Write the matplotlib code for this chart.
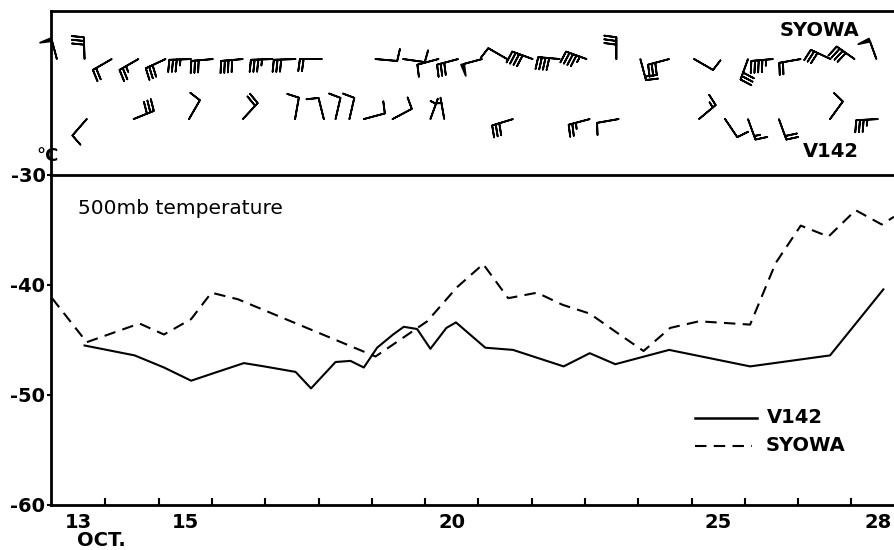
import numpy as np
import matplotlib
matplotlib.use("Agg")
from matplotlib import pyplot as plt

# 500mb temperature (deg C), x = day of October
v142_day = [13.11, 14.05, 14.6, 15.11, 15.54, 16.1, 16.48, 17.07, 17.36, 17.82, 18.1, 18.35, 18.6, 18.9,
            19.1, 19.35, 19.6, 19.9, 20.08, 20.63, 21.15, 22.1, 22.59, 23.07, 24.08, 25.6, 27.1, 28.1]
v142_temp = [-45.5, -46.4, -47.5, -48.7, -48.0, -47.1, -47.4, -47.9, -49.4, -47.0, -46.9, -47.5, -45.7, -44.5,
             -43.8, -44.0, -45.8, -43.9, -43.4, -45.7, -45.9, -47.4, -46.2, -47.2, -45.9, -47.4, -46.4, -40.4]

syowa_day = [12.5, 13.15, 14.14, 14.6, 15.11, 15.49, 15.99, 18.57, 19.54, 20.1, 20.59, 21.06, 21.6,
             22.08, 22.59, 23.09, 23.6, 24.1, 24.64, 25.6, 26.08, 26.55, 27.07, 27.58, 28.07, 28.3]
syowa_temp = [-41.2, -45.2, -43.5, -44.5, -43.1, -40.7, -41.3, -46.5, -43.3, -40.2, -38.1, -41.2, -40.7,
              -41.8, -42.6, -44.3, -46.0, -43.9, -43.3, -43.6, -38.0, -34.6, -35.6, -33.2, -34.5, -33.8]

# upper winds: day, direction the wind blows from (deg), speed (kt)
syowa_wday = [12.59, 13.11, 13.62, 14.12, 14.63, 15.11, 15.52, 16.08, 16.64, 17.07, 17.56, 18.57, 19.09,
              19.75, 20.12, 20.57, 21.04, 21.52, 22.03, 22.53, 23.09, 23.54, 24.08, 24.55, 25.56, 26.03,
              26.55, 27.11, 27.56, 27.97]
syowa_wdir = [345, 358, 240, 240, 245, 268, 265, 265, 268, 268, 270, 95, 98,
              255, 255, 255, 300, 290, 275, 290, 0, 165, 255, 120, 200, 265,
              260, 295, 305, 340]
syowa_wspd = [50, 30, 20, 25, 30, 35, 30, 40, 35, 30, 20, 10, 10,
              10, 30, 50, 10, 40, 40, 45, 30, 20, 30, 10, 30, 45,
              20, 30, 40, 50]

v142_wday = [13.15, 14.03, 15.07, 16.08, 17.06, 17.6, 17.82, 18.08, 18.35, 18.89, 19.6, 19.86,
             21.15, 22.59, 23.13, 24.64, 25.13, 25.56, 26.14, 27.1, 28.0]
v142_wdir = [221, 68, 30, 43, 10, 346, 13, 13, 75, 62, 20, 350,
             253, 255, 260, 50, 146, 160, 160, 36, 267]
v142_wspd = [10, 30, 10, 20, 10, 10, 10, 10, 10, 10, 5, 5,
             30, 25, 10, 15, 10, 15, 20, 10, 35]

temp_ticks = [-30, -40, -50, -60]
day_labels = [13, 15, 20, 25, 28]

W, H = 894, 550
fig = plt.figure(figsize=(W / 100, H / 100), dpi=100)
ax_w = fig.add_axes([51 / W, 375 / H, 843 / W, 164 / H])
ax = fig.add_axes([51 / W, 45 / H, 843 / W, 330 / H])

xlim = (12.48, 28.3)
lab_font = 'DejaVu Sans'


def uv(dirs, spd):
    d = np.radians(dirs)
    s = np.array(spd, float)
    return -s * np.sin(d), -s * np.cos(d)


# ---- wind panel
for days, dirs, spds, yrow in [(syowa_wday, syowa_wdir, syowa_wspd, 0.707),
                               (v142_wday, v142_wdir, v142_wspd, 0.341)]:
    u, v = uv(dirs, spds)
    ax_w.barbs(days, np.full(len(days), yrow), u, v, length=5.6, pivot='tip', flip_barb=True,
               sizes=dict(spacing=0.17, height=0.55, width=0.15), linewidth=1.3, color='black',
               clip_on=False)
ax_w.set_xlim(*xlim)
ax_w.set_ylim(0, 1)
ax_w.set_xticks([])
ax_w.set_yticks([])
ax_w.spines['bottom'].set_visible(False)
ax_w.spines['right'].set_visible(False)
for s in ['top', 'left']:
    ax_w.spines[s].set_linewidth(2)
ax_w.patch.set_alpha(0)
ax_w.text(0.912, 0.884, 'SYOWA', transform=ax_w.transAxes, ha='center', va='center',
          fontsize=14, fontweight='bold', family=lab_font)
ax_w.text(0.925, 0.146, 'V142', transform=ax_w.transAxes, ha='center', va='center',
          fontsize=14, fontweight='bold', family=lab_font)

# ---- temperature panel
ax.plot(v142_day, v142_temp, color='black', lw=1.5)
ax.plot(syowa_day, syowa_temp, color='black', lw=1.5, dashes=(5.5, 3.5))
ax.set_xlim(*xlim)
ax.set_ylim(-60, -30)
ax.spines['right'].set_visible(False)
for s in ['top', 'left', 'bottom']:
    ax.spines[s].set_linewidth(2)

ax.set_xticks(day_labels)
ax.set_xticklabels([str(d) for d in day_labels], fontsize=14, fontweight='bold', family=lab_font)
ax.set_xticks(np.arange(13.5, 28, 1.0), minor=True)
ax.tick_params(axis='x', which='major', length=0, pad=6)
ax.tick_params(axis='x', which='minor', direction='in', length=5, width=1.5)
ax.set_yticks(temp_ticks)
ax.set_yticklabels([str(t) for t in temp_ticks], fontsize=14, fontweight='bold', family=lab_font)
ax.tick_params(axis='y', direction='out', length=3, width=1.5, pad=1)

ax.text(0.032, 0.9, '500mb temperature', transform=ax.transAxes, ha='left', va='center', fontsize=14.5)

# legend
ax.plot([0.764, 0.8375], [0.264, 0.264], transform=ax.transAxes, color='black', lw=1.8)
ax.plot([0.764, 0.832], [0.179, 0.179], transform=ax.transAxes, color='black', lw=1.5, dashes=(5.5, 3.5))
ax.text(0.849, 0.264, 'V142', transform=ax.transAxes, ha='left', va='center',
        fontsize=14, fontweight='bold', family=lab_font)
ax.text(0.848, 0.179, 'SYOWA', transform=ax.transAxes, ha='left', va='center',
        fontsize=14, fontweight='bold', family=lab_font)

fig.text(48 / W, 1 - 156 / H, '°C', ha='center', va='center', fontsize=13, fontweight='bold', family=lab_font)
fig.text(101 / W, 1 - 540 / H, 'OCT.', ha='center', va='center', fontsize=14, fontweight='bold', family=lab_font)

fig.savefig('out.png', dpi=100)
